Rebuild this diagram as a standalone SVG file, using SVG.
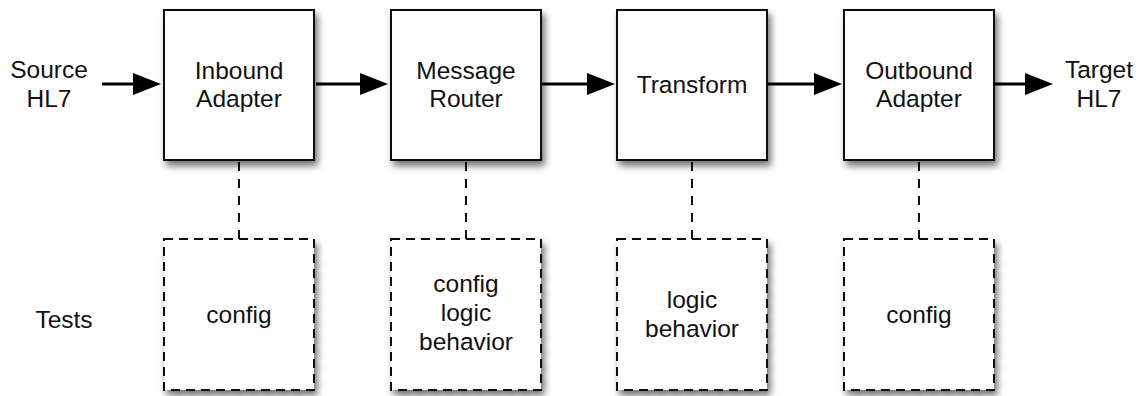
<svg xmlns="http://www.w3.org/2000/svg" width="1140" height="396" viewBox="0 0 1140 396">
  <style>
    text { font-family: "Liberation Sans", Arial, Helvetica, sans-serif; font-size: 24.5px; fill: #111; text-anchor: middle; }
    .box { fill: #fff; stroke: #111; stroke-width: 2; filter: url(#shadow); }
    .test { fill: #fff; stroke: #111; stroke-width: 2; stroke-dasharray: 9 6; filter: url(#shadow); }
    .flow { stroke: #000; stroke-width: 3; fill: none; marker-end: url(#head); }
    .link { stroke: #111; stroke-width: 2; stroke-dasharray: 9 8; fill: none; }
  </style>
  <defs>
    <filter id="shadow" x="-20%" y="-20%" width="150%" height="150%">
      <feDropShadow dx="3" dy="5" stdDeviation="3.5" flood-color="#000" flood-opacity="0.55"/>
    </filter>
    <marker id="head" markerUnits="userSpaceOnUse" markerWidth="29" markerHeight="23" refX="0" refY="11.5" orient="auto">
      <path d="M0,0.5 L28,11.5 L0,22.5 Z" fill="#000"/>
    </marker>
  </defs>

  <rect width="1140" height="396" fill="#fff"/>

  <!-- side labels -->
  <g id="source">
    <text x="49" y="78">Source</text>
    <text x="49" y="107">HL7</text>
  </g>
  <g id="target">
    <text x="1099" y="78">Target</text>
    <text x="1099" y="107">HL7</text>
  </g>
  <g id="tests-label">
    <text x="64" y="328">Tests</text>
  </g>

  <!-- connectors -->
  <g id="connectors">
    <line class="flow" x1="102" y1="84" x2="133" y2="84"/>
    <line class="flow" x1="316" y1="84" x2="360" y2="84"/>
    <line class="flow" x1="542" y1="84" x2="587" y2="84"/>
    <line class="flow" x1="768" y1="84" x2="814" y2="84"/>
    <line class="flow" x1="994" y1="84" x2="1025" y2="84"/>
    <line class="link" x1="239" y1="162" x2="239" y2="239"/>
    <line class="link" x1="466" y1="162" x2="466" y2="239"/>
    <line class="link" x1="692" y1="162" x2="692" y2="239"/>
    <line class="link" x1="919" y1="162" x2="919" y2="239"/>
  </g>

  <!-- pipeline stages -->
  <g id="inbound-adapter">
    <rect class="box" x="164" y="10" width="150" height="150"/>
    <text x="239" y="79">Inbound</text>
    <text x="239" y="107">Adapter</text>
  </g>
  <g id="message-router">
    <rect class="box" x="391" y="10" width="150" height="150"/>
    <text x="466" y="79">Message</text>
    <text x="466" y="107">Router</text>
  </g>
  <g id="transform">
    <rect class="box" x="617" y="10" width="150" height="150"/>
    <text x="692" y="93">Transform</text>
  </g>
  <g id="outbound-adapter">
    <rect class="box" x="844" y="10" width="150" height="150"/>
    <text x="919" y="79">Outbound</text>
    <text x="919" y="107">Adapter</text>
  </g>

  <!-- tests per stage -->
  <g id="inbound-tests">
    <rect class="test" x="164" y="239" width="150" height="151"/>
    <text x="239" y="323">config</text>
  </g>
  <g id="router-tests">
    <rect class="test" x="391" y="239" width="150" height="151"/>
    <text x="466" y="292">config</text>
    <text x="466" y="321">logic</text>
    <text x="466" y="350">behavior</text>
  </g>
  <g id="transform-tests">
    <rect class="test" x="617" y="239" width="150" height="151"/>
    <text x="692" y="308">logic</text>
    <text x="692" y="337">behavior</text>
  </g>
  <g id="outbound-tests">
    <rect class="test" x="844" y="239" width="150" height="151"/>
    <text x="919" y="323">config</text>
  </g>
</svg>
